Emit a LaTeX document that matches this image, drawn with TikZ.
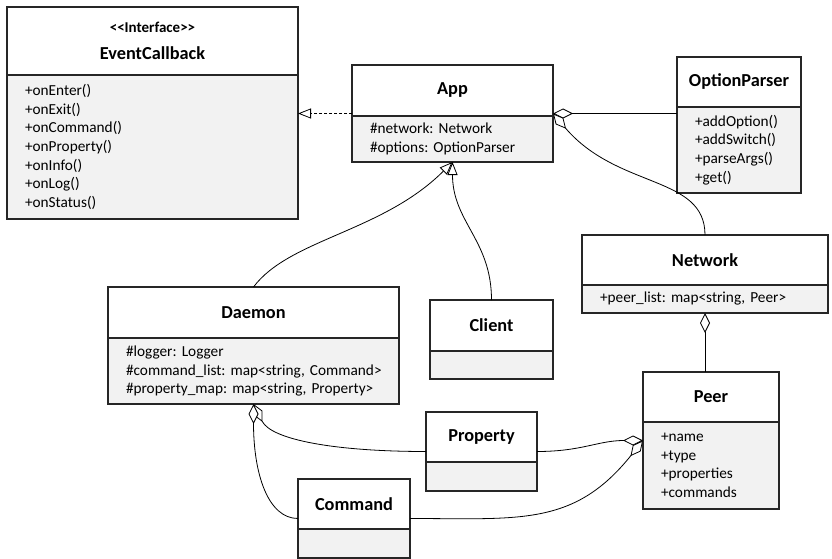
\documentclass[tikz,border=0pt]{standalone}
\usepackage{fontspec}
\setmainfont{Carlito}
\usepackage{tikz}
\usetikzlibrary{positioning}
\usetikzlibrary{calc}
\usetikzlibrary{arrows.meta}

\begin{document}
\begin{tikzpicture}[x=1pt,y=-1pt,
	head/.style={rectangle,draw=black!85,fill=white,line width=1.1pt,outer sep=0pt,
		inner sep=0pt,align=center,font=\fontsize{18.3}{22}\selectfont\bfseries},
	body/.style={rectangle,draw=black!85,fill=black!5,line width=1.1pt,outer sep=0pt,
		inner xsep=18pt,inner ysep=0pt,align=left,font=\fontsize{15.3}{18.6}\selectfont},
	agg/.style={line width=0.8pt,{Diamond[length=20pt,width=10pt,fill=white]}-},
	gen/.style={line width=0.8pt,-{Triangle[length=13pt,width=10pt,fill=white]}},
	realize/.style={line width=0.8pt,dash pattern=on 3pt off 2pt,-{Triangle[length=13pt,width=10pt,fill=white]}}]
	\useasboundingbox (0,0) rectangle (832,559);

	\node[head,minimum width=291,minimum height=68] (evt) at (152.5,41)
		{{\fontsize{15}{16}\selectfont <{}<Interface>{}>}\\[5pt]EventCallback};
	\node[body,minimum width=291,minimum height=144,text width=255,below=0pt of evt] (evt-ops)
		{+onEnter()\\+onExit()\\+onCommand()\\+onProperty()\\+onInfo()\\+onLog()\\+onStatus()};

	\node[head,minimum width=201,minimum height=51] (app) at (452.5,90.5) {App};
	\node[body,minimum width=201,minimum height=46,text width=165,below=0pt of app] (app-attr)
		{\#network:~Network\\\#options:~OptionParser};

	\node[head,minimum width=124,minimum height=50] (opt) at (739,82) {OptionParser};
	\node[body,minimum width=124,minimum height=86,text width=88,below=0pt of opt] (opt-ops)
		{+addOption()\\+addSwitch()\\+parseArgs()\\+get()};

	\node[head,minimum width=246,minimum height=50] (net) at (705,260) {Network};
	\node[body,minimum width=246,minimum height=28,text width=210,below=0pt of net] (net-attr)
		{+peer\_list:~map<string,~Peer>};

	\node[head,minimum width=291,minimum height=51] (daemon) at (253.5,312.5) {Daemon};
	\node[body,minimum width=291,minimum height=66,text width=255,below=0pt of daemon] (daemon-attr)
		{\#logger:~Logger\\\mbox{\#command\_list:~map<string,~Command>}\\\mbox{\#property\_map:~map<string,~Property>}};

	\node[head,minimum width=123,minimum height=51] (client) at (491.5,325.5) {Client};
	\node[body,minimum width=123,minimum height=28,text width=87,below=0pt of client] (client-attr) {};

	\node[head,minimum width=136,minimum height=50] (peer) at (711,397) {Peer};
	\node[body,minimum width=136,minimum height=87,text width=100,below=0pt of peer] (peer-attr)
		{+name\\+type\\+properties\\+commands};

	\node[head,minimum width=111,minimum height=50] (prop) at (481.5,437) {Property};
	\node[body,minimum width=111,minimum height=29,text width=75,below=0pt of prop] (prop-attr) {};

	\node[head,minimum width=112,minimum height=50] (cmd) at (354,504) {Command};
	\node[body,minimum width=112,minimum height=29,text width=76,below=0pt of cmd] (cmd-attr) {};

	% side midpoints of the whole class boxes
	\coordinate (app-w) at ($(app.north west)!.5!(app-attr.south west)$);
	\coordinate (app-e) at ($(app.north east)!.5!(app-attr.south east)$);
	\coordinate (peer-w) at ($(peer.north west)!.5!(peer-attr.south west)$);
	\coordinate (prop-w) at ($(prop.north west)!.5!(prop-attr.south west)$);
	\coordinate (prop-e) at ($(prop.north east)!.5!(prop-attr.south east)$);
	\coordinate (cmd-w) at ($(cmd.north west)!.5!(cmd-attr.south west)$);
	\coordinate (cmd-e) at ($(cmd.north east)!.5!(cmd-attr.south east)$);

	\draw[realize] (app-w) -- (app-w -| evt-ops.east);
	\draw[gen] (daemon.north) .. controls +(36,-48) and +(-70,70) .. (app-attr.south);
	\draw[gen] (client.north) .. controls +(0,-60) and +(0,60) .. (app-attr.south);

	\draw[agg] (app-e) -- (app-e -| opt.west);
	\draw[agg] (app-e) .. controls +(65,76) and +(0,-60) .. (net.north);
	\draw[agg] (net-attr.south) -- (net-attr.south |- peer.north);

	\draw[agg] (daemon-attr.south) .. controls +(18,36) and +(-90,0) .. (prop-w);
	\draw[agg] (daemon-attr.south) .. controls +(0,70) and +(-30,0) .. (cmd-w);
	\draw[agg] (peer-w) .. controls +(-45,0) and +(45,0) .. (prop-e);
	\draw[agg] (peer-w) .. controls +(-69,86) and +(110,0) .. (cmd-e);
\end{tikzpicture}
\end{document}
